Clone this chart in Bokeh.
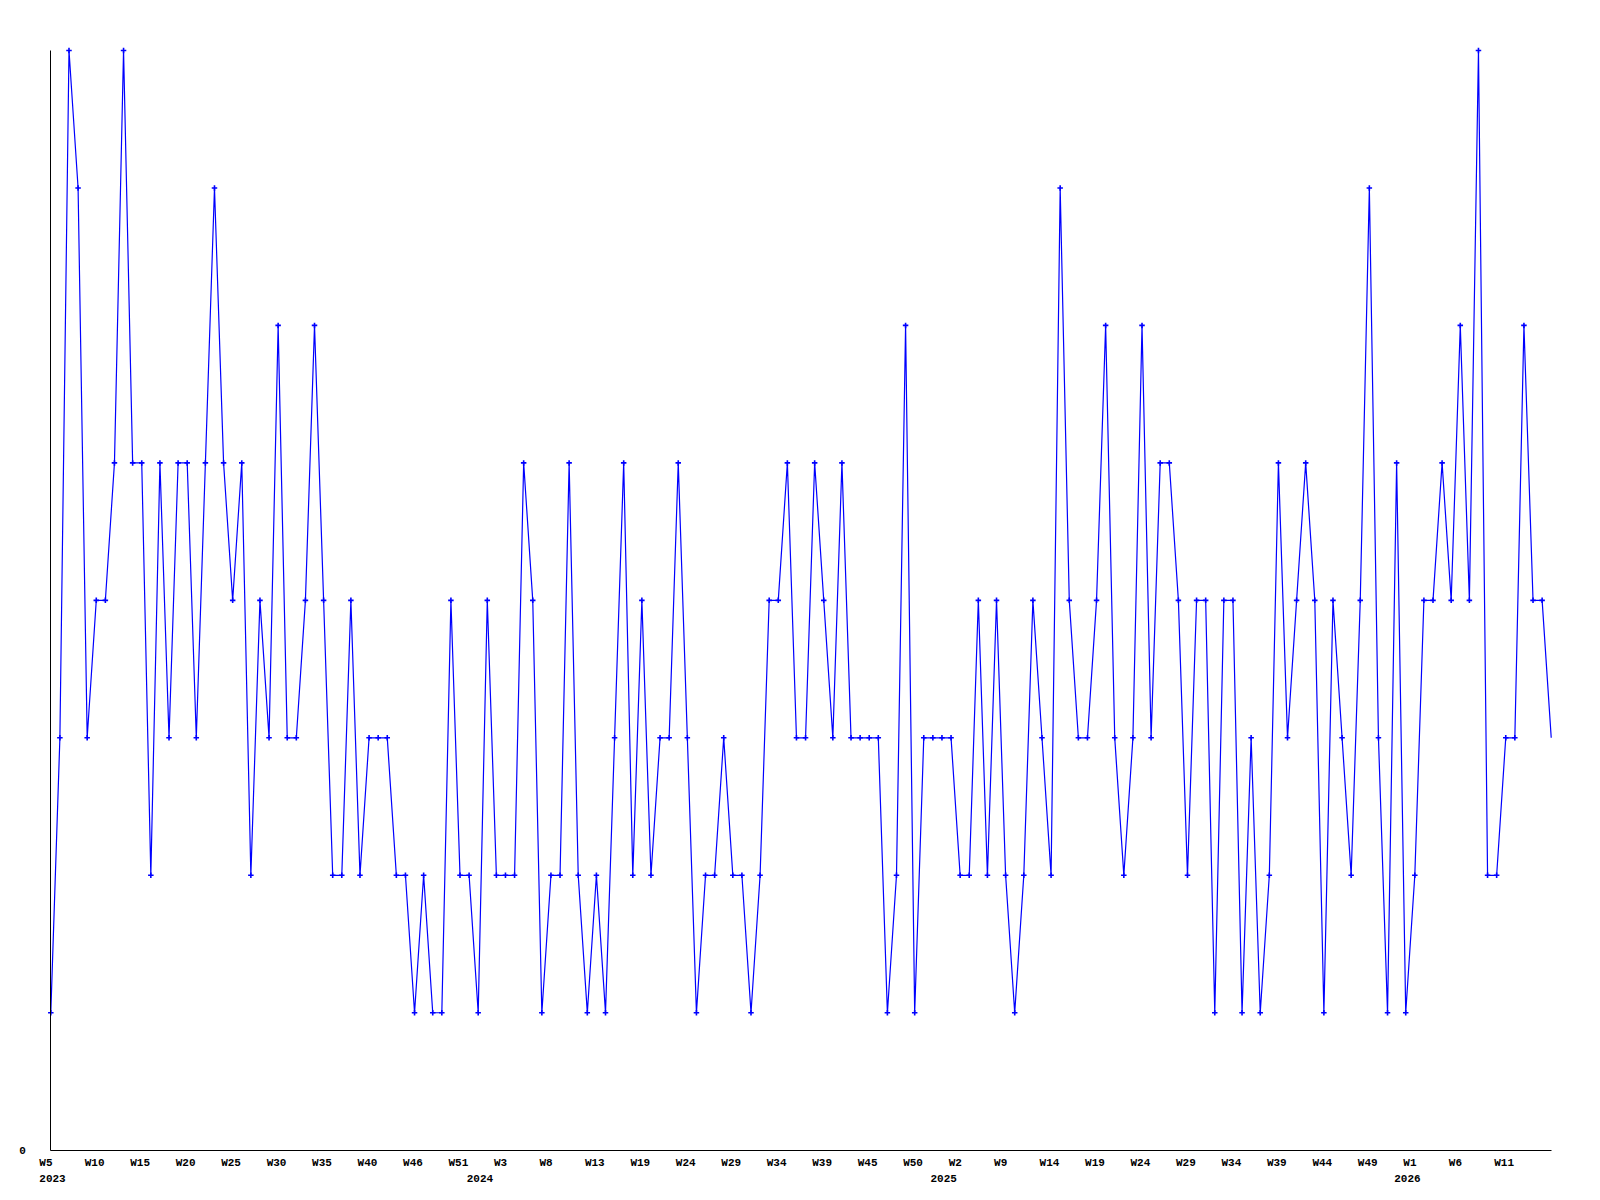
from bokeh.plotting import figure
from bokeh.models import Range1d, FixedTicker, LabelSet, ColumnDataSource
from bokeh.core.properties import value
from bokeh.embed import file_html
from bokeh.resources import INLINE

# weekly series, 2023 W5 onwards
values = [
    1, 3, 8, 7, 3, 4, 4, 5, 8, 5, 5, 2, 5, 3, 5, 5, 3, 5, 7, 5,
    4, 5, 2, 4, 3, 6, 3, 3, 4, 6, 4, 2, 2, 4, 2, 3, 3, 3, 2, 2,
    1, 2, 1, 1, 4, 2, 2, 1, 4, 2, 2, 2, 5, 4, 1, 2, 2, 5, 2, 1,
    2, 1, 3, 5, 2, 4, 2, 3, 3, 5, 3, 1, 2, 2, 3, 2, 2, 1, 2, 4,
    4, 5, 3, 3, 5, 4, 3, 5, 3, 3, 3, 3, 1, 2, 6, 1, 3, 3, 3, 3,
    2, 2, 4, 2, 4, 2, 1, 2, 4, 3, 2, 7, 4, 3, 3, 4, 6, 3, 2, 3,
    6, 3, 5, 5, 4, 2, 4, 4, 1, 4, 4, 1, 3, 1, 2, 5, 3, 4, 5, 4,
    1, 4, 3, 2, 4, 7, 3, 1, 5, 1, 2, 4, 4, 5, 4, 6, 4, 8, 2, 2,
    3, 3, 6, 4, 4, 3,
]

week_tick_idx = [0, 5, 10, 15, 20, 25, 30, 35, 40, 45, 50, 55, 60, 65, 70, 75, 80,
                 85, 90, 95, 100, 105, 110, 115, 120, 125, 130, 135, 140, 145, 150, 155, 160]
week_labels = ["W5", "W10", "W15", "W20", "W25", "W30", "W35", "W40", "W46", "W51",
               "W3", "W8", "W13", "W19", "W24", "W29", "W34", "W39", "W45", "W50",
               "W2", "W9", "W14", "W19", "W24", "W29", "W34", "W39", "W44", "W49",
               "W1", "W6", "W11"]
year_tick_idx = [0, 47, 98, 149]
year_labels = ["2023", "2024", "2025", "2026"]

x = list(range(len(values)))
FONT = "Liberation Mono"
FSIZE = "11px"

p = figure(width=1584, height=1192, output_backend="svg", toolbar_location=None,
           x_range=Range1d(-5.532, 168.66), y_range=Range1d(-0.3077, 8.3637),
           min_border_left=0, min_border_right=0, min_border_top=0, min_border_bottom=0)
p.grid.visible = False
p.outline_line_color = None
p.background_fill_color = "white"
p.border_fill_color = "white"

p.line(x, values, line_color="#0000ff", line_width=1.2)
p.scatter(x[:-1], values[:-1], marker="cross", size=5.5, line_color="#0000ff", line_width=1.6)

# axes drawn at the data origin
p.xaxis.fixed_location = 0
p.xaxis.ticker = FixedTicker(ticks=[])
p.xaxis.bounds = (0, len(values) - 1)
p.xaxis.axis_line_color = "black"
p.xaxis.axis_line_width = 1
p.xaxis.major_tick_line_color = None
p.xaxis.minor_tick_line_color = None

p.yaxis.fixed_location = 0
p.yaxis.ticker = FixedTicker(ticks=[0])
p.yaxis.bounds = (0, max(values))
p.yaxis.axis_line_color = "black"
p.yaxis.axis_line_width = 1
p.yaxis.major_tick_line_color = None
p.yaxis.minor_tick_line_color = None
p.yaxis.major_tick_out = 0
p.yaxis.major_label_standoff = 25
p.yaxis.major_label_text_font = FONT
p.yaxis.major_label_text_font_style = "bold"
p.yaxis.major_label_text_font_size = FSIZE
p.yaxis.major_label_text_color = "black"

wk_src = ColumnDataSource(dict(x=week_tick_idx, y=[0] * len(week_tick_idx), text=week_labels))
yr_src = ColumnDataSource(dict(x=year_tick_idx, y=[0] * len(year_tick_idx), text=year_labels))

wk = LabelSet(x="x", y="y", text="text", source=wk_src, x_offset=-11.5, y_offset=-12.5,
              text_align="left", text_baseline="middle", text_font=value(FONT),
              text_font_style="bold", text_font_size=FSIZE, text_color="black")
yr = LabelSet(x="x", y="y", text="text", source=yr_src, x_offset=-11.5, y_offset=-27.8,
              text_align="left", text_baseline="middle", text_font=value(FONT),
              text_font_style="bold", text_font_size=FSIZE, text_color="black")
p.add_layout(wk)
p.add_layout(yr)

open("out.html", "w").write(file_html(p, INLINE))
